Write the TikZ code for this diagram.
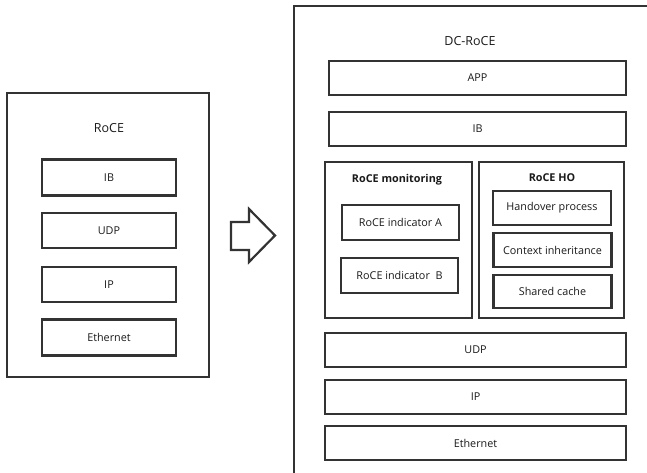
\documentclass[tikz,border=0pt]{standalone}
\usepackage{fontspec}
\setmainfont{Open Sans}
\definecolor{edge}{HTML}{333333}
\definecolor{ink}{HTML}{1A1A1A}
\begin{document}
\begin{tikzpicture}[x=1pt,y=-1pt,
  box/.style={draw=edge, line width=2.2pt, fill=white, inner sep=0pt, text=ink, font=\fontsize{10.8}{12}\selectfont},
  ttl/.style={inner sep=0pt, text=ink, font=\fontsize{12.5}{14}\selectfont},
  bttl/.style={inner sep=0pt, text=ink, font=\fontsize{10.8}{12}\selectfont\bfseries}]
\useasboundingbox (0,0) rectangle (647,473);
\clip (0,0) rectangle (647,473);
% left stack
\node[box, minimum width=202pt, minimum height=284pt] (roce) at (108,235) {};
\node[ttl] (rocet) at (109,128) {RoCE};
\node[box, minimum width=134pt, minimum height=36pt] (lib) at (109,177.5) {IB};
\node[box, minimum width=134pt, minimum height=35pt] (ludp) at (109,230.5) {UDP};
\node[box, minimum width=134pt, minimum height=35pt] (lip) at (109,284.5) {IP};
\node[box, minimum width=134pt, minimum height=36pt] (leth) at (109,337.5) {Ethernet};
% arrow
\draw[edge, line width=2.2pt, line join=miter] (231,222) -- (249,222) -- (249,209) -- (275,235.5) -- (249,262) -- (249,250) -- (231,250) -- cycle;
% right outer (cropped)
\node[box, minimum width=380pt, minimum height=500pt, anchor=north west] (dc) at (293,5) {};
\node[ttl] (dct) at (470,41) {DC-RoCE};
\node[box, minimum width=297pt, minimum height=34pt] (app) at (477.5,78) {APP};
\node[box, minimum width=297pt, minimum height=34pt] (rib) at (477.5,129) {IB};
\node[box, minimum width=147pt, minimum height=156pt] (mon) at (398.5,240) {};
\node[bttl] (mont) at (397,180) {RoCE monitoring};
\node[box, minimum width=117pt, minimum height=35pt] (inda) at (400.5,222.5) {RoCE indicator A};
\node[box, minimum width=117pt, minimum height=35pt] (indb) at (399.5,275.5) {RoCE indicator\ \ B};
\node[box, minimum width=145pt, minimum height=156pt] (ho) at (551.5,240) {};
\node[bttl] (hot) at (552,178) {RoCE HO};
\node[box, minimum width=118pt, minimum height=34pt] (hp) at (552,208) {Handover process};
\node[box, minimum width=118pt, minimum height=34pt] (ci) at (552.5,250) {Context inheritance};
\node[box, minimum width=118pt, minimum height=33pt] (sc) at (552.5,291.5) {Shared cache};
\node[box, minimum width=301pt, minimum height=34pt] (rudp) at (475.5,350) {UDP};
\node[box, minimum width=301pt, minimum height=34pt] (rip) at (475.5,397) {IP};
\node[box, minimum width=301pt, minimum height=34pt] (reth) at (475.5,443) {Ethernet};
\end{tikzpicture}
\end{document}
